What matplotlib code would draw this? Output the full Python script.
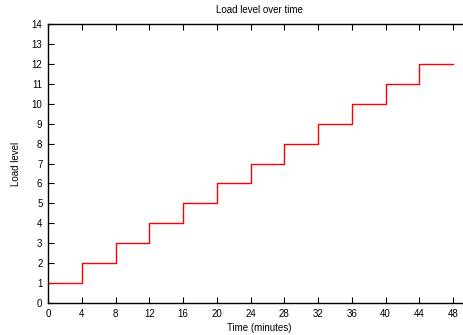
import matplotlib
matplotlib.use("Agg")
from matplotlib import pyplot as plt

# step data: load level held for 4 minutes each
times = [0, 4, 8, 12, 16, 20, 24, 28, 32, 36, 40, 44, 48]
levels = [1, 2, 3, 4, 5, 6, 7, 8, 9, 10, 11, 12, 12]
x_ticks = list(range(0, 49, 4))
y_ticks = list(range(0, 15))

plt.rcParams["font.family"] = ["Liberation Sans", "DejaVu Sans"]
plt.rcParams["font.size"] = 7

fig = plt.figure(figsize=(4.63, 3.35), dpi=100)
# right border falls outside the image like in the reference
ax = fig.add_axes([48 / 463, 32 / 335, 422 / 463, 279 / 335])

ax.step(times, levels, where="post", color="#ff0000", linewidth=1.0)

ax.set_xlim(0, 50)
ax.set_ylim(0, 14)
ax.set_xticks(x_ticks)
ax.set_yticks(y_ticks)
ax.tick_params(direction="in", length=4, width=0.8, top=True, right=False, pad=4)
for s in ax.spines.values():
    s.set_linewidth(1.0)

ax.set_title("Load level over time", fontsize=7, pad=8)
ax.set_xlabel("Time (minutes)", labelpad=3)
ax.set_ylabel("Load level", labelpad=8)

fig.savefig("out.png", dpi=100)
